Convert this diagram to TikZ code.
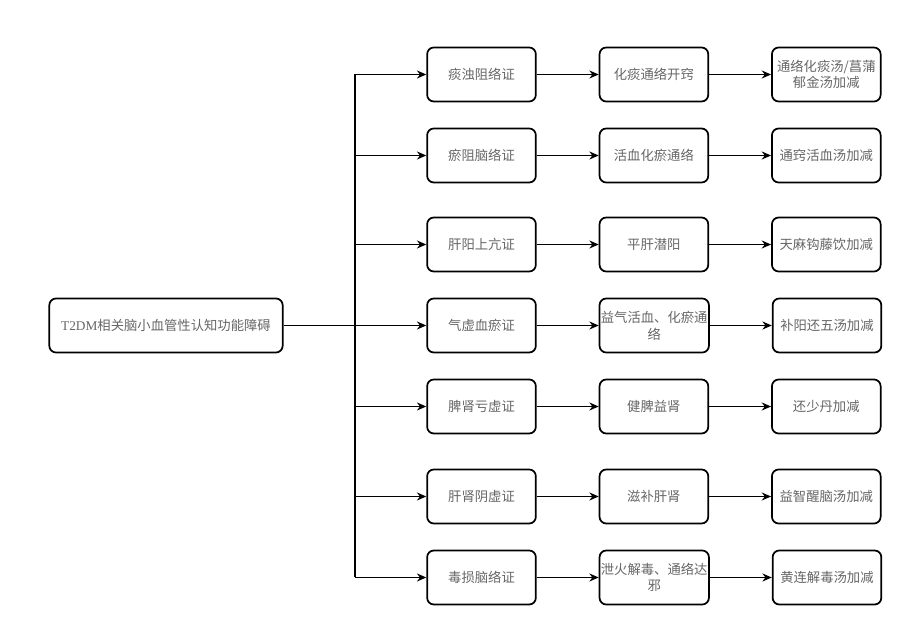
\documentclass[tikz,border=0pt]{standalone}
\usepackage{fontspec}
\setmainfont{Liberation Serif}
\newfontfamily\cjk{Noto Sans CJK SC}
\usetikzlibrary{arrows.meta,positioning}

\begin{document}
\begin{tikzpicture}[
  x=0.75pt, y=-0.75pt,
  node distance=2.0cm and 46.5pt,
  box/.style={rectangle, rounded corners=5pt, draw=black, line width=1.3pt,
    minimum width=81.5pt, minimum height=40.5pt, inner sep=1pt,
    align=center, text=black!60, font=\cjk\fontsize{10}{12.5}\selectfont},
  root/.style={box, minimum width=175pt},
  link/.style={line width=1.1pt, draw=black},
  arr/.style={-{Stealth[length=7pt,width=6pt]}, line width=1.1pt, draw=black}
]
  \useasboundingbox (0,0) rectangle (904,630);

  \node[root] (root) at (166,325.5) {{\rmfamily T2DM}相关脑小血管性认知功能障碍};

  \node[box] (phlegm) at (481.5,74.5)  {痰浊阻络证};
  \node[box] (stasis) at (481.5,155.5) {瘀阻脑络证};
  \node[box] (yang)   at (481.5,244.5) {肝阳上亢证};
  \node[box] (qi)     at (481.5,325.5) {气虚血瘀证};
  \node[box] (spleen) at (481.5,406.5) {脾肾亏虚证};
  \node[box] (yin)    at (481.5,496.5) {肝肾阴虚证};
  \node[box] (toxin)  at (481.5,577.5) {毒损脑络证};

  \node[box, right=of phlegm] (phlegmTx) {化痰通络开窍};
  \node[box, right=of stasis] (stasisTx) {活血化瘀通络};
  \node[box, right=of yang]   (yangTx)   {平肝潜阳};
  \node[box, right=of qi]     (qiTx)     {益气活血、化瘀通\\络};
  \node[box, right=of spleen] (spleenTx) {健脾益肾};
  \node[box, right=of yin]    (yinTx)    {滋补肝肾};
  \node[box, right=of toxin]  (toxinTx)  {泄火解毒、通络达\\邪};

  \node[box, right=of phlegmTx] (phlegmRx) {通络化痰汤/菖蒲\\郁金汤加减};
  \node[box, right=of stasisTx] (stasisRx) {通窍活血汤加减};
  \node[box, right=of yangTx]   (yangRx)   {天麻钩藤饮加减};
  \node[box, right=of qiTx]     (qiRx)     {补阳还五汤加减};
  \node[box, right=of spleenTx] (spleenRx) {还少丹加减};
  \node[box, right=of yinTx]    (yinRx)    {益智醒脑汤加减};
  \node[box, right=of toxinTx]  (toxinRx)  {黄连解毒汤加减};

  \coordinate (trunk) at (355,0);

  % trunk and branches
  \draw[link] (trunk |- phlegm) -- (trunk |- toxin);
  \draw[arr] (root) -- (qi);
  \draw[arr] (trunk |- phlegm) -- (phlegm);
  \draw[arr] (trunk |- stasis) -- (stasis);
  \draw[arr] (trunk |- yang)   -- (yang);
  \draw[arr] (trunk |- spleen) -- (spleen);
  \draw[arr] (trunk |- yin)    -- (yin);
  \draw[arr] (trunk |- toxin)  -- (toxin);

  % syndrome -> method -> formula
  \draw[arr] (phlegm) -- (phlegmTx);
  \draw[arr] (stasis) -- (stasisTx);
  \draw[arr] (yang)   -- (yangTx);
  \draw[arr] (qi)     -- (qiTx);
  \draw[arr] (spleen) -- (spleenTx);
  \draw[arr] (yin)    -- (yinTx);
  \draw[arr] (toxin)  -- (toxinTx);

  \draw[arr] (phlegmTx) -- (phlegmRx);
  \draw[arr] (stasisTx) -- (stasisRx);
  \draw[arr] (yangTx)   -- (yangRx);
  \draw[arr] (qiTx)     -- (qiRx);
  \draw[arr] (spleenTx) -- (spleenRx);
  \draw[arr] (yinTx)    -- (yinRx);
  \draw[arr] (toxinTx)  -- (toxinRx);
\end{tikzpicture}
\end{document}
